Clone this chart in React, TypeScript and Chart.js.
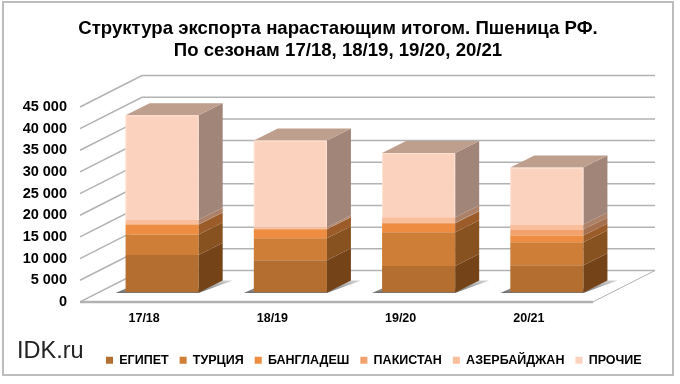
import React, { useEffect, useRef } from "react";
import { Chart, registerables } from "chart.js";

Chart.register(...registerables);

const seasons = ["17/18", "18/19", "19/20", "20/21"];
const egypt = [8640, 7420, 6120, 6270];
const turkey = [4740, 5120, 7800, 5350];
const bangladesh = [2290, 2060, 2060, 1530];
const pakistan = [100, 100, 100, 1380];
const azerbaijan = [1050, 350, 1280, 1150];
const other = [24100, 20050, 14830, 13150];

const titleLines = ["Структура экспорта нарастающим итогом. Пшеница РФ.", "По сезонам 17/18, 18/19, 19/20, 20/21"];
const brand = "IDK.ru";

const FRONT = ["#B46E30", "#CF7E37", "#EE8D41", "#F3A26D", "#F9BE9C", "#FBD2BE"];
const SIDE = ["#744318", "#875120", "#9B5C2A", "#A5704E", "#AD8068", "#A08578"];
const TOP = "#BE9E8D";
const DX = 24;
const DY = 12;
const SHIFT_X = 18;
const SHIFT_Y = 9.4;
const WALL_DX = 62;
const WALL_DY = 31.4;
const GRID = "#B2B2B2";

const scene3d = {
  id: "scene3d",
  afterLayout(chart: any) {
    chart.titleBlock.left = 0;
    chart.titleBlock.right = 676;
    chart.legend.left = 95;
    chart.legend.right = 660;
    chart.legend.top = 343;
  },
  beforeDraw(chart: any) {
    const { ctx, width } = chart;
    ctx.save();
    ctx.fillStyle = "#fff";
    ctx.fillRect(0, 0, width, chart.height);
    ctx.strokeStyle = "#BDBDBD";
    ctx.lineWidth = 2;
    ctx.strokeRect(3, 2, 670, 373);
    ctx.restore();
  },
  beforeDatasetsDraw(chart: any) {
    const { ctx, chartArea: a, scales } = chart;
    const y = scales.y;
    ctx.save();
    ctx.strokeStyle = GRID;
    ctx.lineWidth = 1.5;
    y.ticks.forEach((t: any) => {
      const py = y.getPixelForValue(t.value);
      ctx.beginPath();
      ctx.moveTo(a.left, py);
      ctx.lineTo(a.left + WALL_DX, py - WALL_DY);
      ctx.lineTo(a.right + WALL_DX, py - WALL_DY);
      ctx.stroke();
    });
    const b = y.getPixelForValue(0);
    ctx.lineWidth = 2.5;
    ctx.beginPath();
    ctx.moveTo(a.left, b);
    ctx.lineTo(a.right, b);
    ctx.stroke();
    ctx.lineWidth = 1;
    ctx.beginPath();
    ctx.moveTo(a.right, b);
    ctx.lineTo(a.right + WALL_DX, b - WALL_DY);
    ctx.stroke();
    ctx.restore();

    ctx.save();
    ctx.translate(SHIFT_X, -SHIFT_Y);
    chart.getDatasetMeta(0).data.forEach((el: any) => {
      const l = el.x - el.width / 2;
      const r = el.x + el.width / 2;
      const g = ctx.createLinearGradient(0, el.base - 14, 0, el.base);
      g.addColorStop(0, "rgba(120,120,120,0.25)");
      g.addColorStop(1, "rgba(90,90,90,0.85)");
      ctx.fillStyle = g;
      ctx.beginPath();
      ctx.moveTo(l - 10, el.base + 0.5);
      ctx.lineTo(r, el.base + 0.5);
      ctx.lineTo(r + DX + 10, el.base - DY);
      ctx.lineTo(r + DX, el.base - DY);
      ctx.lineTo(r, el.base - 4);
      ctx.lineTo(l, el.base - 4);
      ctx.closePath();
      ctx.fill();
    });
  },
  afterDatasetsDraw(chart: any) {
    const { ctx } = chart;
    const n = chart.data.datasets.length;
    for (let i = 0; i < n; i++) {
      chart.getDatasetMeta(i).data.forEach((el: any) => {
        const r = el.x + el.width / 2;
        ctx.fillStyle = SIDE[i];
        ctx.beginPath();
        ctx.moveTo(r, el.y);
        ctx.lineTo(r + DX, el.y - DY);
        ctx.lineTo(r + DX, el.base - DY);
        ctx.lineTo(r, el.base);
        ctx.closePath();
        ctx.fill();
        if (i === n - 1) {
          const l = el.x - el.width / 2;
          ctx.fillStyle = TOP;
          ctx.beginPath();
          ctx.moveTo(l, el.y);
          ctx.lineTo(r, el.y);
          ctx.lineTo(r + DX, el.y - DY);
          ctx.lineTo(l + DX, el.y - DY);
          ctx.closePath();
          ctx.fill();
          ctx.strokeStyle = "#FDE3D6";
          ctx.lineWidth = 1;
          ctx.beginPath();
          ctx.moveTo(l + 0.5, el.base);
          ctx.lineTo(l + 0.5, el.y + 0.5);
          ctx.lineTo(r - 0.5, el.y + 0.5);
          ctx.lineTo(r - 0.5, el.base);
          ctx.stroke();
        }
      });
    }
    ctx.restore();
  },
  afterDraw(chart: any) {
    const { ctx } = chart;
    ctx.save();
    ctx.fillStyle = "#222";
    ctx.font = "23.5px 'Liberation Sans'";
    ctx.textBaseline = "middle";
    ctx.fillText(brand, 17, 352);
    ctx.restore();
  },
};

export default function App() {
  const ref = useRef<HTMLCanvasElement>(null);
  useEffect(() => {
    const names = ["ЕГИПЕТ", "ТУРЦИЯ", "БАНГЛАДЕШ", "ПАКИСТАН", "АЗЕРБАЙДЖАН", "ПРОЧИЕ"];
    const series = [egypt, turkey, bangladesh, pakistan, azerbaijan, other];
    const chart = new Chart(ref.current!, {
      type: "bar",
      data: {
        labels: seasons,
        datasets: series.map((data, i) => ({
          label: names[i],
          data,
          backgroundColor: FRONT[i],
          borderWidth: 0,
          barPercentage: 0.57,
          categoryPercentage: 1,
          stack: "s",
        })),
      },
      options: {
        animation: false,
        responsive: false,
        layout: { padding: { left: 0, right: 87, top: 0, bottom: 15.6 } },
        plugins: {
          title: {
            display: true,
            text: titleLines,
            font: { family: "'Liberation Sans'", size: 18.6, weight: "bold", lineHeight: 1.19 },
            color: "#000",
            padding: { top: 18, bottom: 44.7 },
          },
          legend: {
            display: true,
            position: "bottom",
            align: "start",
            labels: {
              boxWidth: 7,
              boxHeight: 7,
              padding: 11,
              color: "#000",
              font: { family: "'Liberation Sans'", size: 12.5, weight: "bold" },
            },
            onClick: () => {},
          },
          tooltip: { enabled: false },
        },
        scales: {
          x: {
            stacked: true,
            grid: { display: false, drawTicks: false },
            border: { display: false },
            ticks: { color: "#000", padding: 9, font: { family: "'Liberation Sans'", size: 12.5, weight: "bold" } },
          },
          y: {
            stacked: true,
            min: 0,
            max: 45000,
            afterFit: (s: any) => { s.width = 80; },
            grid: { display: false, drawTicks: false },
            border: { display: false },
            ticks: {
              stepSize: 5000,
              padding: 13,
              color: "#000",
              font: { family: "'Liberation Sans'", size: 14.5, weight: "bold" },
              callback: (v: any) => String(v).replace(/\B(?=(\d{3})+$)/g, " "),
            },
          },
        },
      },
      plugins: [scene3d],
    } as any);
    return () => chart.destroy();
  }, []);
  return (
    <div style={{ position: "absolute", left: 0, top: 0, width: 680, height: 384 }}>
      <canvas ref={ref} width={680} height={384} style={{ display: "block" }} />
    </div>
  );
}
